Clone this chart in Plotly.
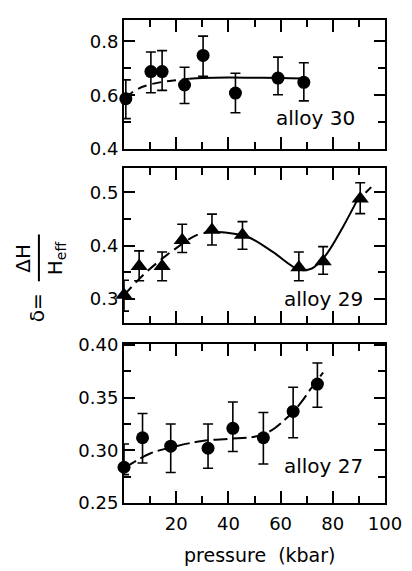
import plotly.graph_objects as go

# ---------------- data ----------------
# alloy 30 (circles)
p30 = [0.7, 10.3, 14.6, 23.2, 30.3, 42.7, 59.0, 68.9]
d30 = [0.587, 0.688, 0.688, 0.638, 0.748, 0.608, 0.664, 0.648]
e30_plus = [0.070, 0.073, 0.078, 0.066, 0.072, 0.074, 0.078, 0.073]
e30_minus = [0.074, 0.079, 0.070, 0.069, 0.078, 0.073, 0.062, 0.069]
c30x = [0.7, 5, 10, 15, 20, 25, 30, 40, 50, 60, 68.9]
c30y = [0.592, 0.622, 0.640, 0.650, 0.656, 0.661, 0.664, 0.666, 0.665, 0.664, 0.662]
c30_break = 5  # index where dashed turns solid

# alloy 29 (triangles)
p29 = [0, 5.8, 14.6, 22.3, 33.7, 45.4, 67.0, 76.3, 90.5]
d29 = [0.307, 0.361, 0.361, 0.410, 0.429, 0.420, 0.359, 0.370, 0.488]
e29_plus = [0.028, 0.029, 0.027, 0.030, 0.030, 0.025, 0.029, 0.028, 0.030]
e29_minus = [0.030, 0.027, 0.027, 0.023, 0.028, 0.027, 0.025, 0.024, 0.028]
c29x = [0, 8.3, 18, 28, 33.7, 37.7, 47.5, 57, 67, 72, 77, 84, 89, 94.8]
c29y = [0.307, 0.349, 0.388, 0.420, 0.426, 0.425, 0.416, 0.388, 0.355, 0.357, 0.380, 0.436, 0.482, 0.510]
c29_breaks = [4, 12]  # dashed | solid | dashed

# alloy 27 (circles)
p27 = [0, 7.1, 17.9, 32.2, 41.7, 53.4, 64.8, 74.1]
d27 = [0.284, 0.312, 0.304, 0.302, 0.321, 0.312, 0.337, 0.363]
e27_plus = [0.022, 0.023, 0.021, 0.023, 0.025, 0.024, 0.023, 0.020]
e27_minus = [0.007, 0.024, 0.025, 0.019, 0.022, 0.025, 0.025, 0.022]
c27x = [0, 10, 20, 30, 40, 50, 56.5, 62, 65, 68, 72, 76.3]
c27y = [0.283, 0.297, 0.304, 0.309, 0.311, 0.313, 0.319, 0.330, 0.337, 0.346, 0.360, 0.374]

x_ticks = [20, 40, 60, 80, 100]
x_ticktext = ["20", "40", "60", "80", "100"]
y30_ticks = [0.4, 0.6, 0.8]
y29_ticks = [0.3, 0.4, 0.5]
y27_ticks = [0.25, 0.30, 0.35, 0.40]
y27_ticktext = ["0.25", "0.30", "0.35", "0.40"]
labels = ["alloy 30", "alloy 29", "alloy 27"]

# ---------------- figure ----------------
FONT = "DejaVu Sans"
BLACK = "black"
fig = go.Figure()

def add_curve(xs, ys, dash, xa, ya):
    fig.add_trace(go.Scatter(x=xs, y=ys, mode="lines", line=dict(color=BLACK, width=2, dash=dash, shape="spline"),
                             xaxis=xa, yaxis=ya, hoverinfo="skip", showlegend=False, cliponaxis=False))

def add_points(xs, ys, ep, em, symbol, size, xa, ya):
    fig.add_trace(go.Scatter(x=xs, y=ys, mode="markers", cliponaxis=False,
                             marker=dict(symbol=symbol, size=size, color=BLACK),
                             error_y=dict(type="data", symmetric=False, array=ep, arrayminus=em,
                                          color=BLACK, thickness=1.6, width=5),
                             xaxis=xa, yaxis=ya, showlegend=False))

# panel 1
add_curve(c30x[:c30_break + 1], c30y[:c30_break + 1], "9px,6px", "x", "y")
add_curve(c30x[c30_break:], c30y[c30_break:], "solid", "x", "y")
add_points(p30, d30, e30_plus, e30_minus, "circle", 13, "x", "y")
# panel 2
b1, b2 = c29_breaks
add_curve(c29x[:b1 + 1], c29y[:b1 + 1], "11px,6px", "x2", "y2")
add_curve(c29x[b1:b2 + 1], c29y[b1:b2 + 1], "solid", "x2", "y2")
add_curve(c29x[b2:], c29y[b2:], "8px,5px", "x2", "y2")
add_points(p29, d29, e29_plus, e29_minus, "triangle-up", 15, "x2", "y2")
# panel 3
add_curve(c27x, c27y, "14px,5px", "x3", "y3")
add_points(p27, d27, e27_plus, e27_minus, "circle", 13, "x3", "y3")

tickfont = dict(family=FONT, size=18, color=BLACK)

def xaxis(anchor, show_labels):
    return dict(range=[0, 100], anchor=anchor, domain=[0, 1],
                showline=True, linecolor=BLACK, linewidth=2, mirror="ticks",
                ticks="inside", ticklen=12, tickwidth=1.6, tickcolor=BLACK,
                tickvals=x_ticks, ticktext=x_ticktext, showticklabels=show_labels,
                ticklabelstandoff=3,
                minor=dict(dtick=10, ticks="inside", ticklen=7, tickwidth=1.6, tickcolor=BLACK),
                showgrid=False, zeroline=False, tickfont=tickfont)

def yaxis(anchor, rng, dom, tv, tt, mdt):
    return dict(range=rng, anchor=anchor, domain=dom,
                showline=True, linecolor=BLACK, linewidth=2, mirror="ticks",
                ticks="inside", ticklen=11, tickwidth=1.6, tickcolor=BLACK,
                tickvals=tv, ticktext=tt,
                minor=dict(dtick=mdt, ticks="inside", ticklen=7, tickwidth=1.6, tickcolor=BLACK),
                showgrid=False, zeroline=False, tickfont=tickfont)

fig.update_layout(
    width=412, height=571,
    margin=dict(l=124, r=18, t=10, b=68),
    paper_bgcolor="white", plot_bgcolor="white",
    showlegend=False,
    xaxis=xaxis("y", False),
    xaxis2=xaxis("y2", False),
    xaxis3=xaxis("y3", True),
    yaxis=yaxis("x", [0.4, 0.88], [0.733, 1.0], y30_ticks, ["0.4", "0.6", "0.8"], 0.1),
    yaxis2=yaxis("x2", [0.254, 0.546], [0.372, 0.694], y29_ticks, ["0.3", "0.4", "0.5"], 0.05),
    yaxis3=yaxis("x3", [0.25, 0.401], [0.0, 0.329], y27_ticks, y27_ticktext, 0.025),
)

lab_font = dict(family=FONT, size=20, color=BLACK)
fig.add_annotation(text=labels[0], x=73.3, y=0.514, xref="x", yref="y", showarrow=False, font=lab_font)
fig.add_annotation(text=labels[1], x=76.3, y=0.300, xref="x2", yref="y2", showarrow=False, font=lab_font)
fig.add_annotation(text=labels[2], x=76.3, y=0.285, xref="x3", yref="y3", showarrow=False, font=lab_font)

fig.add_annotation(text="pressure  (kbar)", x=0.52, y=-0.108, xref="paper", yref="paper",
                   showarrow=False, font=dict(family=FONT, size=19, color=BLACK),
                   xanchor="center", yanchor="middle")

# y-axis title: δ = ΔH / H_eff (rotated)
yl_font = dict(family=FONT, size=20, color=BLACK)
fig.add_annotation(text="δ=", x=-0.33, y=0.405, xref="paper", yref="paper", showarrow=False,
                   textangle=-90, font=yl_font, xanchor="center", yanchor="middle")
fig.add_annotation(text="ΔH", x=-0.385, y=0.507, xref="paper", yref="paper", showarrow=False,
                   textangle=-90, font=yl_font, xanchor="center", yanchor="middle")
fig.add_annotation(text="H<sub>eff</sub>", x=-0.26, y=0.507, xref="paper", yref="paper", showarrow=False,
                   textangle=-90, font=yl_font, xanchor="center", yanchor="middle")
fig.add_shape(type="line", x0=-0.326, x1=-0.326, y0=0.459, y1=0.556, xref="paper", yref="paper",
              line=dict(color=BLACK, width=2))

fig.write_html("out.html")
